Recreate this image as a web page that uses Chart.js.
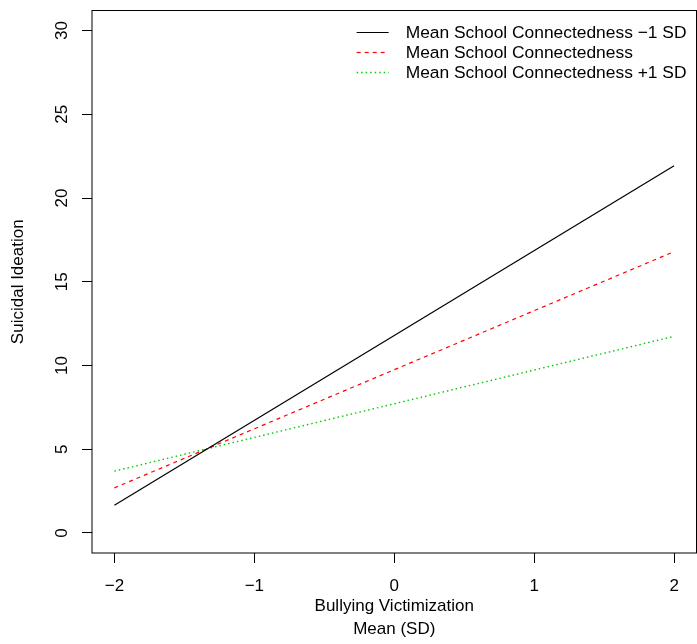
<!DOCTYPE html>
<html lang="en">
<head>
    <meta charset="UTF-8">
    <title>Suicidal Ideation by Bullying Victimization</title>
    <script src="https://cdn.jsdelivr.net/npm/chart.js@4.4.0/dist/chart.umd.min.js"></script>
    <style>
        html, body { margin: 0; padding: 0; background: #fff; }
        #chart { display: block; }
    </style>
</head>
<body>
<canvas id="chart" width="697" height="644"></canvas>

<script>
    // Data
    const bullying = [-2, 2];
    const lowConnect = [1.65, 21.93];   // Mean School Connectedness -1 SD
    const meanConnect = [2.69, 16.80];  // Mean School Connectedness
    const highConnect = [3.69, 11.74];  // Mean School Connectedness +1 SD

    const seriesLabels = [
        'Mean School Connectedness \u22121 SD',
        'Mean School Connectedness',
        'Mean School Connectedness +1 SD'
    ];
    const xTicks = [-2, -1, 0, 1, 2];
    const yTicks = [0, 5, 10, 15, 20, 25, 30];

    const FONT = '"Liberation Sans", Arial, Helvetica, sans-serif';
    const fmt = v => String(v).replace('-', '\u2212');

    // plot frame like R's box()
    const boxPlugin = {
        id: 'box',
        afterDraw(chart) {
            const a = chart.chartArea;
            const ctx = chart.ctx;
            ctx.save();
            ctx.strokeStyle = '#000';
            ctx.lineWidth = 1;
            ctx.strokeRect(a.left, a.top, a.right - a.left, a.bottom - a.top);
            ctx.restore();
        }
    };

    // legend in the top right corner inside the plot, no border
    const insetLegend = {
        id: 'insetLegend',
        afterDraw(chart) {
            const a = chart.chartArea;
            const ctx = chart.ctx;
            ctx.save();
            ctx.font = '17.4px ' + FONT;
            ctx.textBaseline = 'middle';
            ctx.textAlign = 'left';
            const widths = chart.data.datasets.map(d => ctx.measureText(d.label).width);
            const textLeft = a.right - 10 - Math.max(...widths);
            chart.data.datasets.forEach((d, i) => {
                const y = a.top + 22 + i * 20;
                ctx.strokeStyle = d.borderColor;
                ctx.lineWidth = d.borderWidth;
                ctx.setLineDash(d.borderDash || []);
                ctx.beginPath();
                ctx.moveTo(textLeft - 49, y);
                ctx.lineTo(textLeft - 17, y);
                ctx.stroke();
                ctx.setLineDash([]);
                ctx.fillStyle = '#000';
                ctx.fillText(d.label, textLeft, y + 1);
            });
            ctx.restore();
        }
    };

    const toPoints = ys => bullying.map((x, i) => ({ x: x, y: ys[i] }));

    new Chart(document.getElementById('chart'), {
        type: 'line',
        data: {
            datasets: [
                {
                    label: seriesLabels[0],
                    data: toPoints(lowConnect),
                    borderColor: '#000000',
                    borderWidth: 1.2,
                    pointRadius: 0
                },
                {
                    label: seriesLabels[1],
                    data: toPoints(meanConnect),
                    borderColor: '#FF0000',
                    borderWidth: 1.2,
                    borderDash: [4, 4],
                    pointRadius: 0
                },
                {
                    label: seriesLabels[2],
                    data: toPoints(highConnect),
                    borderColor: '#00CD00',
                    borderWidth: 1.4,
                    borderDash: [1.5, 3],
                    pointRadius: 0
                }
            ]
        },
        options: {
            responsive: false,
            animation: false,
            layout: { padding: { top: 10.5, right: 0.5, left: 0, bottom: 0 } },
            plugins: {
                legend: { display: false },
                tooltip: { enabled: false }
            },
            scales: {
                x: {
                    type: 'linear',
                    min: -2.16,
                    max: 2.16,
                    afterBuildTicks: axis => { axis.ticks = xTicks.map(v => ({ value: v })); },
                    afterFit: axis => {
                        axis.height = 91;
                        axis.paddingLeft = 0;
                        axis.paddingRight = 0;
                    },
                    border: { display: false },
                    grid: { drawOnChartArea: false, drawTicks: true, tickLength: 10, color: '#000', tickWidth: 1 },
                    ticks: {
                        color: '#000',
                        padding: 13,
                        maxRotation: 0,
                        font: { family: FONT, size: 17 },
                        callback: v => fmt(v)
                    },
                    title: {
                        display: true,
                        text: ['Bullying Victimization', 'Mean (SD)'],
                        color: '#000',
                        font: { family: FONT, size: 17, lineHeight: 1.35 },
                        padding: { top: 0, bottom: 3.5 }
                    }
                },
                y: {
                    type: 'linear',
                    min: -1.2,
                    max: 31.2,
                    afterBuildTicks: axis => { axis.ticks = yTicks.map(v => ({ value: v })); },
                    afterFit: axis => {
                        axis.width = 92;
                        axis.paddingTop = 0;
                        axis.paddingBottom = 0;
                    },
                    border: { display: false },
                    grid: { drawOnChartArea: false, drawTicks: true, tickLength: 10, color: '#000', tickWidth: 1 },
                    ticks: {
                        color: '#000',
                        padding: 10.5,
                        minRotation: 90,
                        maxRotation: 90,
                        crossAlign: 'center',
                        font: { family: FONT, size: 17 },
                        callback: v => fmt(v)
                    },
                    title: {
                        display: true,
                        text: 'Suicidal Ideation',
                        color: '#000',
                        font: { family: FONT, size: 17 },
                        padding: { top: 8, bottom: 0 }
                    }
                }
            }
        },
        plugins: [boxPlugin, insetLegend]
    });
</script>
</body>
</html>
